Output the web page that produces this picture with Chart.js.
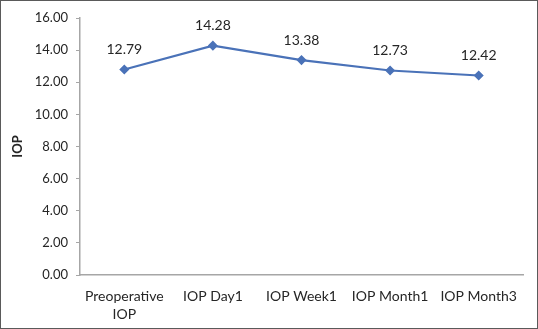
<!DOCTYPE html>
<html>
<head>
  <title>IOP over time</title>
  <script src="https://cdn.jsdelivr.net/npm/chart.js"></script>
  <style>
    body {
      margin: 0;
      background: #fff;
    }
    .frame {
      width: 538px;
      height: 329px;
      box-sizing: border-box;
      border: 1px solid #5a5a5a;
    }
    canvas {
      display: block;
    }
  </style>
</head>
<body>
  <div class="frame">
    <canvas id="iopChart" width="536" height="327"></canvas>
  </div>
  <script>
    const categories = [['Preoperative', 'IOP'], 'IOP Day1', 'IOP Week1', 'IOP Month1', 'IOP Month3'];
    const iopValues = [12.79, 14.28, 13.38, 12.73, 12.42];
    const yTicks = [0, 2, 4, 6, 8, 10, 12, 14, 16];

    const fontFamily = 'Lato, "Open Sans", sans-serif';

    // draws the value above each point
    const valueLabels = {
      id: 'valueLabels',
      afterDatasetsDraw(chart) {
        const ctx = chart.ctx;
        const meta = chart.getDatasetMeta(0);
        ctx.save();
        ctx.font = '14px ' + fontFamily;
        ctx.fillStyle = '#262626';
        ctx.textAlign = 'center';
        ctx.textBaseline = 'middle';
        meta.data.forEach((pt, i) => {
          ctx.fillText(iopValues[i].toFixed(2), pt.x, pt.y - 20);
        });
        ctx.restore();
      }
    };

    new Chart(document.getElementById('iopChart').getContext('2d'), {
      type: 'line',
      data: {
        labels: categories,
        datasets: [{
          data: iopValues,
          borderColor: '#4a72b8',
          backgroundColor: '#4a72b8',
          borderWidth: 2.2,
          pointStyle: 'rectRot',
          pointRadius: 3.5,
          tension: 0
        }]
      },
      options: {
        responsive: false,
        animation: false,
        layout: {
          padding: { top: 17, right: 14, left: 0, bottom: 0 }
        },
        plugins: {
          legend: { display: false },
          tooltip: { enabled: false }
        },
        scales: {
          x: {
            offset: true,
            grid: { display: false, drawTicks: false },
            border: { color: '#a6a6a6', width: 1.5 },
            ticks: {
              color: '#262626',
              padding: 12,
              maxRotation: 0,
              font: { family: fontFamily, size: 14, lineHeight: 1.3 }
            },
            afterFit(scale) { scale.height = 53; }
          },
          y: {
            min: 0,
            max: 16,
            afterBuildTicks(scale) { scale.ticks = yTicks.map(v => ({ value: v })); },
            grid: { drawOnChartArea: false, tickLength: 4, color: '#a6a6a6' },
            border: { color: '#a6a6a6', width: 1.5 },
            ticks: {
              color: '#262626',
              padding: 8,
              font: { family: fontFamily, size: 13 },
              callback: v => v.toFixed(2)
            },
            title: {
              display: true,
              text: 'IOP',
              color: '#262626',
              padding: { top: 9, bottom: 0 },
              font: { family: fontFamily, size: 13, weight: 'bold' }
            },
            afterFit(scale) { scale.width = 79; }
          }
        }
      },
      plugins: [valueLabels]
    });
  </script>
</body>
</html>
